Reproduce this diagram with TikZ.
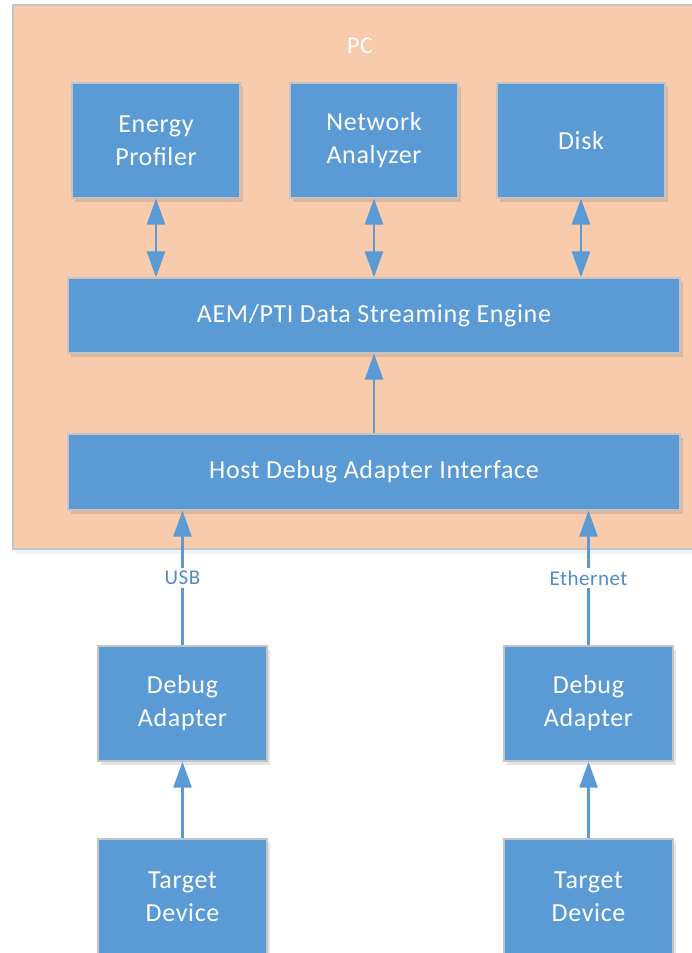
\documentclass[tikz,border=0pt]{standalone}
\usepackage{fontspec}
\setmainfont{Carlito}[LetterSpace=2.5]
\usetikzlibrary{arrows.meta,shadows}
\definecolor{boxblue}{HTML}{5B9BD5}
\definecolor{pcfill}{HTML}{F8CBAD}
\definecolor{edgegray}{HTML}{C4C4C4}
\definecolor{labblue}{HTML}{4F8CCB}
\begin{document}
\begin{tikzpicture}[x=1pt,y=-1pt,
  blk/.style={rectangle, fill=boxblue, draw=edgegray, line width=1.2pt, text=white,
    font=\fontsize{26}{33}\selectfont, align=center, inner sep=0pt,
    drop shadow={shadow xshift=3pt, shadow yshift=-4pt, opacity=0.10, fill=black}},
  container/.style={rectangle, fill=pcfill, draw=edgegray, line width=1.5pt, inner sep=0pt,
    drop shadow={shadow xshift=2pt, shadow yshift=-5pt, opacity=0.10, fill=boxblue}},
  conn/.style={draw=boxblue, line width=2.6pt},
  tipup/.style={-{Triangle[width=18pt,length=26pt]}},
  tipboth/.style={{Triangle[width=18pt,length=26pt]}-{Triangle[width=18pt,length=26pt]}},
  lab/.style={fill=white, text=labblue, font=\fontsize{21}{24}\selectfont, inner sep=3pt}
]
\useasboundingbox (0,0) rectangle (692,953);
\fill[white] (0,0) rectangle (692,953);
% PC container
\node[container, minimum width=700pt, minimum height=544pt] (pc) at (363,277) {};
\node[text=white, font=\fontsize{24}{28}\selectfont] (pclabel) at (360,46) {PC};
% top boxes
\node[blk, minimum width=168pt, minimum height=115pt] (energy) at (156,140.5) {Energy\\Profiler};
\node[blk, minimum width=168pt, minimum height=115pt] (net) at (374,140.5) {Network\\Analyzer};
\node[blk, minimum width=168pt, minimum height=115pt] (disk) at (581,140.5) {Disk};
\node[blk, minimum width=612pt, minimum height=75pt] (aem) at (374,315.5) {AEM/PTI Data Streaming Engine};
\node[blk, minimum width=612pt, minimum height=76pt] (host) at (374,472) {Host Debug Adapter Interface};
% bottom boxes
\node[blk, minimum width=169pt, minimum height=115pt] (da1) at (182.5,703.5) {Debug\\Adapter};
\node[blk, minimum width=169pt, minimum height=115pt] (da2) at (588.5,703.5) {Debug\\Adapter};
\node[blk, minimum width=169pt, minimum height=115pt] (td1) at (182.5,896.5) {Target\\Device};
\node[blk, minimum width=169pt, minimum height=115pt] (td2) at (588.5,896.5) {Target\\Device};
% connectors
\draw[conn, tipboth] (energy.south) -- (energy.south |- aem.north);
\draw[conn, tipboth] (net.south) -- (net.south |- aem.north);
\draw[conn, tipboth] (disk.south) -- (disk.south |- aem.north);
\draw[conn, tipup] (host.north) -- (aem.south);
\draw[conn, tipup] (da1.north) -- (da1.north |- host.south) node[lab, pos=0.5] (usb) {USB};
\draw[conn, tipup] (da2.north) -- (da2.north |- host.south) node[lab, pos=0.5] (eth) {Ethernet};
\draw[conn, tipup] (td1.north) -- (da1.south);
\draw[conn, tipup] (td2.north) -- (da2.south);
\end{tikzpicture}
\end{document}
